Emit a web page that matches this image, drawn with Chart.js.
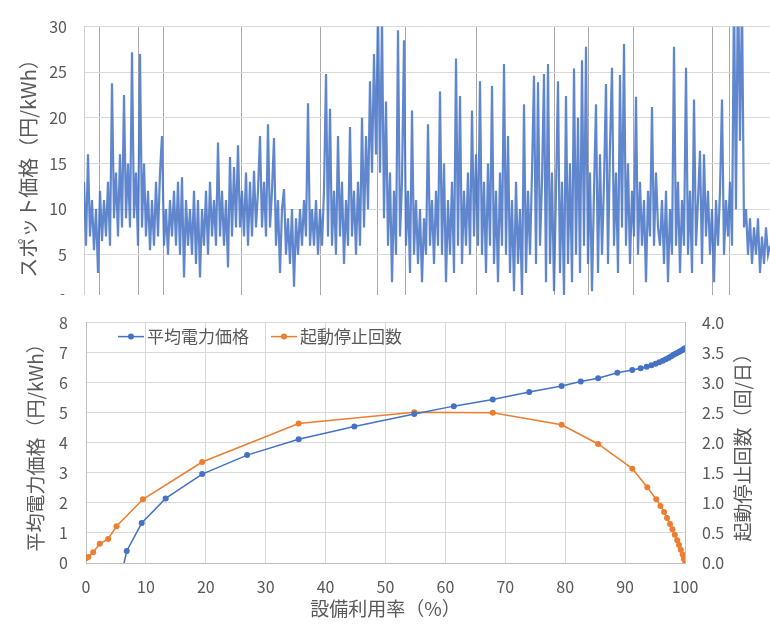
<!DOCTYPE html>
<html lang="ja">
<head>
<meta charset="utf-8">
<title>スポット価格と設備利用率</title>
<script src="https://cdn.jsdelivr.net/npm/chart.js@4.4.1/dist/chart.umd.min.js"></script>
<style>
  html, body { margin: 0; padding: 0; background: #fff; }
  #wrap { position: relative; width: 770px; height: 624px; overflow: hidden; }
  #topBox { position: absolute; left: 0; top: 0; width: 770px; height: 327px; }
  #bottomBox { position: absolute; left: 0; top: 295px; width: 770px; height: 329px; background: #fff; }
</style>
</head>
<body>
<div id="wrap">
  <div id="topBox"><canvas id="spotChart"></canvas></div>
  <div id="bottomBox"><canvas id="curveChart"></canvas></div>
</div>
<script>
// spot price samples, left to right (円/kWh)
const spotPrice = [
  13, 6, 16, 7, 11, 5.5, 10, 3, 12, 6.5,
  11, 7, 13, 6, 23.8, 9, 14, 7, 16, 8,
  22.5, 9, 15, 8, 27.2, 9, 14, 6, 27, 8,
  15, 7, 12, 5.5, 11, 6, 13, 7, 14, 18,
  6, 10, 5, 11, 7, 12, 6, 13, 5, 13.5,
  2.5, 11, 6, 10, 5, 12, 4,
  11, 2.5, 10, 6, 12, 5, 13, 7, 11, 6,
  17.3, 7, 12, 6, 11, 3.6, 15.7, 7, 14.6, 8,
  17, 8, 12, 7, 14, 6, 13, 7, 14.2, 8,
  12, 18, 8, 13, 7, 19.3, 8, 12, 17.8, 6,
  11, 3, 10, 12.2, 5, 9, 4, 10, 1.5, 9,
  5, 10, 6, 11, 7, 21.6, 6, 10,
  6, 11, 5, 10, 6, 12, 24.8, 7, 21, 6,
  12, 5, 18, 7, 13, 4, 11, 6, 19, 7,
  12, 5, 13, 6, 20, 8, 18, 10, 24, 14,
  27, 16, 32, 14, 31, 9, 21.8, 6, 14, 2,
  12, 5, 29.6, 7, 13, 28.5, 6, 12, 3, 20.8,
  5, 11, 4, 10, 2, 9, 5,
  19.3, 6, 11, 4, 12, 6, 22.9, 5, 15, 2,
  11, 5, 13, 3, 26.5, 6, 22.4, 4, 12, 6,
  14, 5, 20.8, 7, 16, 6, 24, 5, 13, 3,
  15, 6, 23.5, 4, 12, 2, 14, 6, 25.9, 5,
  18, 3, 11, 1, 13, 4, 10, 0.5, 21.5, 3,
  12, 5, 14, 24.6, 4, 23.9, 6, 13,
  24.8, 2, 25.9, 4, 14, 1, 12, 24, 3, 13,
  0.5, 22.4, 4, 15, 2, 25.4, 5, 20, 3, 26.3,
  6, 27.8, 4, 14, 1, 12, 21.5, 3, 16, 5,
  13, 23.7, 4, 17, 25.5, 6, 14, 3, 24.7, 8,
  28.1, 6, 15, 4, 12, 7, 22.3, 5, 13, 6,
  11, 2, 12, 7, 21.2, 6, 14, 8,
  6, 11, 4, 12, 2, 10, 5, 27.8, 6, 13,
  3, 11, 6, 25.5, 5, 12, 3, 22, 6, 11,
  16.4, 4, 16, 7, 12, 5, 10, 2, 11, 6,
  12, 22, 5, 11, 7, 13, 6, 34, 10, 36,
  17.5, 33, 8, 10, 5, 9, 4, 8, 5, 9,
  3, 7, 4, 8, 5, 6
];
// sample index of the vertical grey rules in the upper panel
const spotRules = [7.5, 27, 39.5, 78.5, 118, 146.5, 160.5, 196, 235, 252, 274.5, 314, 322.5];
const spotTicks = [0, 5, 10, 15, 20, 25, 30];

// lower panel
const priceUtil = [5.9, 6.8, 9.3, 13.3, 19.4, 26.9, 35.5, 44.8, 54.8, 61.4, 67.9, 74.0, 79.4, 82.6, 85.5, 88.7, 91.2,
  92.6, 93.6, 94.4, 95.1, 95.7, 96.3, 96.8, 97.3, 97.7, 98.1, 98.5, 98.9, 99.2, 99.5, 99.8, 100];
const avgPrice = [-0.4, 0.4, 1.33, 2.15, 2.96, 3.59, 4.12, 4.54, 4.96, 5.22, 5.44, 5.69, 5.89, 6.04, 6.15, 6.33, 6.42,
  6.48, 6.53, 6.58, 6.63, 6.68, 6.73, 6.78, 6.83, 6.88, 6.93, 6.97, 7.01, 7.05, 7.08, 7.12, 7.15];
const startsUtil = [0, 0.4, 1.2, 2.3, 3.7, 5.1, 9.5, 19.4, 35.5, 54.8, 67.9, 79.4, 85.5, 91.2, 93.7, 95.2,
  95.9, 96.5, 97.0, 97.5, 97.9, 98.3, 98.7, 99.0, 99.3, 99.6, 99.8, 100];
const startStops = [0.08, 0.1, 0.18, 0.32, 0.4, 0.61, 1.06, 1.68, 2.32, 2.51, 2.5, 2.3, 1.98, 1.57, 1.26, 1.06,
  0.95, 0.85, 0.75, 0.65, 0.56, 0.47, 0.38, 0.3, 0.22, 0.14, 0.07, 0.0];
const seriesNames = ['平均電力価格', '起動停止回数'];
const rightTitle = '起動停止回数（回/日）';

const FONT = '"Noto Sans CJK JP", "Noto Sans", sans-serif';
const TXT = '#595959';
const GRID = '#d9d9d9';
const BLUE = '#4472C4';
const ORANGE = '#ED7D31';

Chart.defaults.font.family = FONT;
Chart.defaults.color = TXT;
Chart.defaults.animation = false;

// upper panel: spot price
new Chart(document.getElementById('spotChart'), {
  type: 'line',
  data: {
    datasets: [{
      data: spotPrice.map((v, i) => ({ x: i, y: v })),
      borderColor: 'rgba(68, 114, 196, 0.85)',
      borderWidth: 2.2,
      pointRadius: 0,
      tension: 0
    }]
  },
  options: {
    responsive: true,
    maintainAspectRatio: false,
    layout: { padding: { top: 26, bottom: 15.4, left: 0, right: 0 } },
    plugins: { legend: { display: false }, tooltip: { enabled: false } },
    scales: {
      x: {
        type: 'linear',
        min: 0,
        max: spotPrice.length - 1,
        afterBuildTicks: s => { s.ticks = spotRules.map(v => ({ value: v })); },
        afterFit: s => { s.height = 0; },
        ticks: { display: false },
        grid: { color: '#a8a8a8', drawTicks: false },
        border: { display: false }
      },
      y: {
        min: 0,
        max: 30,
        afterBuildTicks: s => { s.ticks = spotTicks.map(v => ({ value: v })); },
        afterFit: s => { s.width = 84; },
        ticks: { padding: 17, font: { size: 16 } },
        grid: { color: GRID, drawTicks: false },
        border: { color: '#d0d0d0' },
        title: { display: true, text: 'スポット価格（円/kWh）', font: { size: 20 }, padding: { top: 16, bottom: 0 } }
      }
    }
  }
});

// legend drawn inside the plot area, right title read bottom-to-top
const innerLegend = {
  id: 'innerLegend',
  afterDatasetsDraw(chart) {
    const { ctx, chartArea } = chart;
    ctx.save();
    ctx.font = '17px ' + FONT;
    ctx.textBaseline = 'middle';
    let x = chartArea.left + 32;
    const y = chartArea.top + 14;
    chart.data.datasets.forEach(ds => {
      ctx.strokeStyle = ds.borderColor;
      ctx.lineWidth = 1.5;
      ctx.beginPath();
      ctx.moveTo(x, y);
      ctx.lineTo(x + 26, y);
      ctx.stroke();
      ctx.fillStyle = ds.borderColor;
      ctx.beginPath();
      ctx.arc(x + 13, y, 3, 0, Math.PI * 2);
      ctx.fill();
      ctx.fillStyle = TXT;
      ctx.fillText(ds.label, x + 29, y);
      x += 29 + ctx.measureText(ds.label).width + 22;
    });

    const r = chart.scales.y2;
    ctx.translate(r.right - 27, (chartArea.top + chartArea.bottom) / 2);
    ctx.rotate(-Math.PI / 2);
    ctx.font = '19px ' + FONT;
    ctx.textAlign = 'center';
    ctx.fillText(rightTitle, 0, 0);
    ctx.restore();
  }
};

// lower panel: average price and start-stops vs utilisation
new Chart(document.getElementById('curveChart'), {
  type: 'line',
  data: {
    datasets: [{
      label: seriesNames[0],
      data: priceUtil.map((u, i) => ({ x: u, y: avgPrice[i] })),
      yAxisID: 'y',
      borderColor: BLUE,
      backgroundColor: BLUE,
      borderWidth: 1.5,
      pointRadius: 3,
      pointBorderWidth: 0,
      tension: 0
    }, {
      label: seriesNames[1],
      data: startsUtil.map((u, i) => ({ x: u, y: startStops[i] })),
      yAxisID: 'y2',
      borderColor: ORANGE,
      backgroundColor: ORANGE,
      borderWidth: 1.5,
      pointRadius: 3,
      pointBorderWidth: 0,
      tension: 0
    }]
  },
  options: {
    responsive: true,
    maintainAspectRatio: false,
    layout: { padding: { top: 18, bottom: 0, left: 0, right: 0 } },
    plugins: { legend: { display: false }, tooltip: { enabled: false } },
    scales: {
      x: {
        type: 'linear',
        min: 0,
        max: 100,
        afterFit: s => { s.height = 61; },
        ticks: { stepSize: 10, padding: 14, font: { size: 16 } },
        grid: { color: GRID, drawTicks: false },
        border: { color: '#bfbfbf' },
        title: { display: true, text: '設備利用率（%）', font: { size: 19 }, padding: { top: 0, bottom: 4 } }
      },
      y: {
        position: 'left',
        min: 0,
        max: 8,
        afterFit: s => { s.width = 86; },
        ticks: { stepSize: 1, padding: 18, font: { size: 16 } },
        grid: { color: GRID, drawTicks: false },
        border: { color: '#bfbfbf' },
        title: { display: true, text: '平均電力価格（円/kWh）', font: { size: 19 }, padding: { top: 24, bottom: 0 } }
      },
      y2: {
        position: 'right',
        min: 0,
        max: 4,
        afterFit: s => { s.width = 85; },
        ticks: { stepSize: 0.5, padding: 17, font: { size: 16 }, callback: v => v.toFixed(1) },
        grid: { display: false, drawTicks: false },
        border: { color: '#bfbfbf' }
      }
    }
  },
  plugins: [innerLegend]
});
</script>
</body>
</html>
